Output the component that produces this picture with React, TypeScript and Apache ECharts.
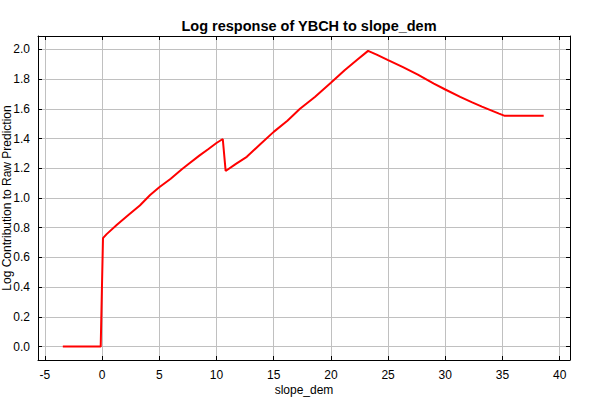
import React, { useEffect, useRef } from "react";
import * as echarts from "echarts";

const xValues = [
  -3.43, -0.12, 0.08, 0.4, 1.3, 2.3, 3.3, 4.2, 5.0, 6.0, 7.0, 7.5, 8.5, 9.3, 10.0, 10.55,
  10.8, 11.7, 12.65, 13.8, 15.0, 16.2, 17.3, 18.6, 20.0, 21.2, 22.3, 23.25,
  24.0, 25.0, 26.3, 27.6, 29.0, 30.0, 31.3, 32.3, 33.2, 34.0, 34.7, 35.2, 38.6,
];
const yValues = [
  0, 0, 0.73, 0.757, 0.82, 0.885, 0.95, 1.02, 1.072, 1.13, 1.195, 1.225, 1.285, 1.33, 1.37, 1.397,
  1.182, 1.23, 1.277, 1.36, 1.445, 1.52, 1.6, 1.68, 1.775, 1.86, 1.93, 1.99,
  1.965, 1.928, 1.88, 1.83, 1.77, 1.73, 1.68, 1.645, 1.615, 1.59, 1.568, 1.553, 1.553,
];

const titleText = "Log response of YBCH to slope_dem";
const xName = "slope_dem";
const yName = "Log Contribution to Raw Prediction";

export default function App() {
  const ref = useRef<HTMLDivElement>(null);
  useEffect(() => {
    if (!ref.current) return;
    const chart = echarts.init(ref.current, null, { renderer: "svg" });
    const font = "'Liberation Sans', Arial, sans-serif";
    const tickCommon = { show: true, inside: true, length: 4, lineStyle: { color: "#000" } };
    const lineCommon = { show: true, onZero: false, lineStyle: { color: "#000", width: 1 } };
    chart.setOption({
      animation: false,
      backgroundColor: "#fff",
      title: {
        text: titleText,
        left: 304,
        textAlign: "center",
        top: 13,
        textStyle: { fontFamily: font, fontSize: 14.5, fontWeight: "bold", color: "#000" },
      },
      grid: {
        left: 38, right: 30, top: 36, bottom: 40,
        containLabel: false,
        outerBoundsMode: "none",
        show: false,
      },
      xAxis: [
        {
          type: "value", min: -5.6, max: 40.9, splitNumber: 9,
          name: xName, nameLocation: "middle", nameGap: 24, nameMoveOverlap: false,
          nameTextStyle: { fontFamily: font, fontSize: 12, color: "#000" },
          axisLine: lineCommon,
          axisTick: tickCommon,
          axisLabel: {
            fontFamily: font, fontSize: 12, color: "#000", margin: 9,
            showMinLabel: false, showMaxLabel: false,
            formatter: (v: number) => String(Math.round(v)),
          },
          splitLine: { show: true, lineStyle: { color: "#c0c0c0", width: 1 } },
        },
        {
          type: "value", min: -5.6, max: 40.9, splitNumber: 9, position: "top",
          axisLine: lineCommon,
          axisTick: tickCommon,
          axisLabel: { show: false },
          splitLine: { show: false },
        },
      ],
      yAxis: [
        {
          type: "value", min: -0.09, max: 2.09, splitNumber: 11,
          name: yName, nameLocation: "middle", nameGap: 25, nameMoveOverlap: false,
          nameTextStyle: { fontFamily: font, fontSize: 12, color: "#000" },
          axisLine: lineCommon,
          axisTick: tickCommon,
          axisLabel: {
            fontFamily: font, fontSize: 12, color: "#000", margin: 8,
            showMinLabel: false, showMaxLabel: false,
            formatter: (v: number) => v.toFixed(1),
          },
          splitLine: { show: true, lineStyle: { color: "#c0c0c0", width: 1 } },
        },
        {
          type: "value", min: -0.09, max: 2.09, splitNumber: 11, position: "right",
          axisLine: lineCommon,
          axisTick: tickCommon,
          axisLabel: { show: false },
          splitLine: { show: false },
        },
      ],
      series: [
        {
          type: "line",
          data: xValues.map((x, i) => [x, yValues[i]]),
          showSymbol: false,
          symbol: "none",
          lineStyle: { color: "#ff0000", width: 2 },
          itemStyle: { color: "#ff0000" },
        },
      ],
    });
    return () => chart.dispose();
  }, []);
  return <div ref={ref} style={{ width: 600, height: 400, position: "absolute", left: 0, top: 0 }} />;
}
